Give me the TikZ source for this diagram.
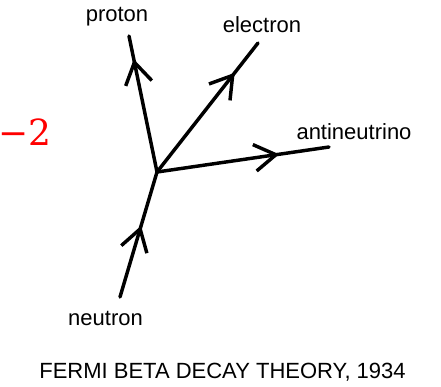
\documentclass[tikz,border=0pt]{standalone}
\usepackage{fontspec}
\setmainfont{Liberation Sans}
\newfontfamily\chargefont{DejaVu Serif}
\usetikzlibrary{arrows.meta,decorations.markings}
\tikzset{track/.style={line width=2.6pt,line cap=round},midarrow/.style={postaction={decorate},decoration={markings,mark=at position #1 with {\arrow[line width=2.6pt]{Straight Barb[length=16pt,width=20pt]}}}},lab/.style={inner sep=0pt,font=\fontsize{16.5}{19}\selectfont}}
\begin{document}
\begin{tikzpicture}[x=0.75pt,y=-0.75pt]
\useasboundingbox (0,0) rectangle (441,386);
\coordinate (vtx) at (157,172);
\coordinate (pend) at (129,36);
\coordinate (eend) at (258,43);
\coordinate (aend) at (329,147);
\coordinate (nstart) at (120,297);
\node[lab] (proton) at (117,16.5) {proton};
\node[lab] (electron) at (262,24.5) {electron};
\node[lab] (anti) at (354,131.5) {antineutrino};
\node[lab] (neutron) at (105.5,318.5) {neutron};
\node[lab] (title) at (222.5,372.5) {FERMI BETA DECAY THEORY, 1934};
\node[inner sep=0pt,anchor=base west,text=red,font=\chargefont\fontsize{27}{30}\selectfont] (charge) at (-2,145) {−2};
\draw[track,midarrow=0.57](nstart)--(vtx);\draw[track,midarrow=0.83](vtx)--(pend);\draw[track,midarrow=0.77](vtx)--(eend);\draw[track,midarrow=0.71](vtx)--(aend);
\end{tikzpicture}
\end{document}
